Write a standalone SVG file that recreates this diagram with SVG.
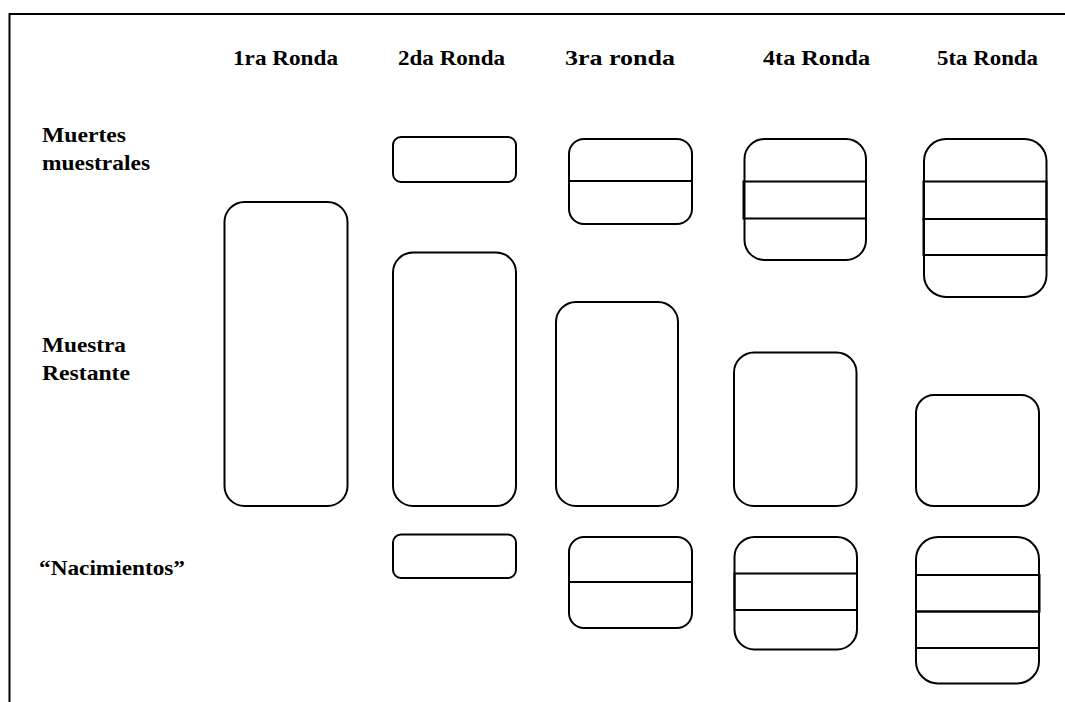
<svg xmlns="http://www.w3.org/2000/svg" width="1065" height="702" viewBox="0 0 1065 702">
<style>
.b{fill:none;stroke:#000;stroke-width:2}
.l{fill:none;stroke:#000;stroke-width:2}
text{font-family:'Liberation Serif','Times New Roman',serif;font-weight:bold;font-size:22px;fill:#000}
</style>
<rect width="1065" height="702" fill="#fff"/>
<g id="frame"><path class="l" d="M9.5,702 V14 H1065"/></g>
<g id="headers">
<text x="233" y="65" textLength="105" lengthAdjust="spacingAndGlyphs">1ra Ronda</text>
<text x="398" y="65" textLength="107" lengthAdjust="spacingAndGlyphs">2da Ronda</text>
<text x="565" y="65" textLength="110" lengthAdjust="spacingAndGlyphs">3ra ronda</text>
<text x="763" y="65" textLength="107" lengthAdjust="spacingAndGlyphs">4ta Ronda</text>
<text x="937" y="65" textLength="101" lengthAdjust="spacingAndGlyphs">5ta Ronda</text>
</g>
<g id="rowlabels">
<text x="42" y="142" textLength="84" lengthAdjust="spacingAndGlyphs">Muertes</text>
<text x="42" y="170" textLength="108" lengthAdjust="spacingAndGlyphs">muestrales</text>
<text x="42" y="352" textLength="84" lengthAdjust="spacingAndGlyphs">Muestra</text>
<text x="42" y="380" textLength="88" lengthAdjust="spacingAndGlyphs">Restante</text>
<text x="39" y="575" textLength="146" lengthAdjust="spacingAndGlyphs">“Nacimientos”</text>
</g>
<g id="muertes">
<g id="m2"><rect class="b" x="393" y="137" width="123" height="45" rx="8"/></g>
<g id="m3"><rect class="b" x="569" y="139" width="123" height="85" rx="15"/><line class="l" x1="569" y1="181" x2="692" y2="181"/></g>
<g id="m4"><rect class="b" x="744.5" y="139" width="121.5" height="121" rx="20"/><rect class="b" x="743.5" y="181.5" width="122.5" height="37"/></g>
<g id="m5"><rect class="b" x="924" y="139" width="122.5" height="158" rx="22"/><rect class="b" x="923.5" y="181.5" width="123" height="37.5"/><rect class="b" x="923.5" y="219" width="123" height="36"/></g>
</g>
<g id="muestra">
<g id="r1"><rect class="b" x="224.5" y="202" width="123" height="304" rx="20"/></g>
<g id="r2"><rect class="b" x="393" y="252.5" width="123" height="253.5" rx="20"/></g>
<g id="r3"><rect class="b" x="556" y="302" width="122" height="204" rx="20"/></g>
<g id="r4"><rect class="b" x="734" y="352.5" width="122.5" height="153.5" rx="20"/></g>
<g id="r5"><rect class="b" x="916" y="395" width="123" height="111" rx="18"/></g>
</g>
<g id="nacimientos">
<g id="n2"><rect class="b" x="393" y="534.5" width="123" height="43.5" rx="8"/></g>
<g id="n3"><rect class="b" x="569" y="537" width="123" height="91" rx="15"/><line class="l" x1="569" y1="582" x2="692" y2="582"/></g>
<g id="n4"><rect class="b" x="734.5" y="537" width="122.5" height="112.5" rx="20"/><rect class="b" x="734.5" y="573.5" width="122.5" height="36.5"/></g>
<g id="n5"><rect class="b" x="916" y="537" width="123" height="146.5" rx="22"/><rect class="b" x="916" y="575" width="123.5" height="36.5"/><rect class="b" x="916" y="611.5" width="123" height="36.5"/></g>
</g>
</svg>
